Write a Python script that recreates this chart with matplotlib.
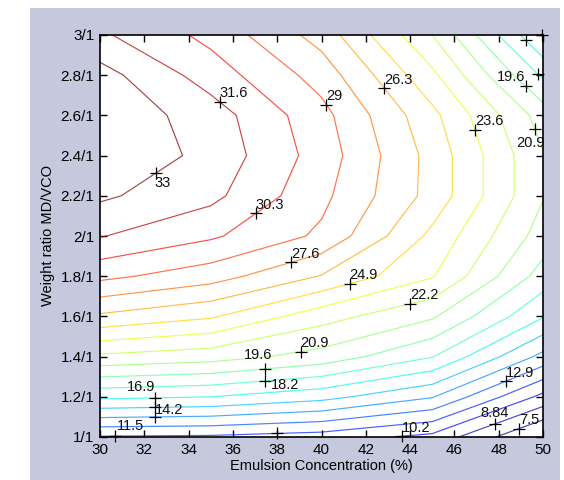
import matplotlib
matplotlib.use("Agg")
import matplotlib.pyplot as plt
import numpy as np

# grid (emulsion %, weight ratio MD/VCO)
emulsion = [30, 35, 40, 45, 50]
ratio = [1.0, 1.2, 1.4, 1.6, 1.8, 2.0, 2.2, 2.4, 2.6, 2.8, 3.0]
# response at each (ratio row, emulsion column)
response = [
    [11.4, 11.3, 10.9, 9.8, 5.8],
    [17.2, 16.9, 16.0, 14.3, 9.8],
    [22.0, 21.5, 20.4, 18.3, 13.8],
    [26.05, 25.1, 22.8, 21.1, 17.0],
    [29.3, 28.2, 26.2, 23.7, 19.0],
    [31.7, 30.5, 28.7, 24.6, 20.3],
    [33.2, 32.0, 29.3, 25.8, 21.0],
    [34.2, 32.55, 29.7, 25.8, 21.0],
    [34.0, 32.3, 29.4, 25.3, 20.3],
    [33.5, 31.0, 28.4, 23.9, 18.0],
    [31.85, 29.9, 27.07, 22.26, 15.5],
]
levels = [7.5, 8.84, 10.18, 11.52, 12.86, 14.2, 15.54, 16.89, 18.23, 19.57,
          20.91, 22.25, 23.59, 24.93, 26.27, 27.61, 28.95, 30.29, 31.63, 32.97]

# contour labels: text, approximate spot on the line
label_text = ["33", "31.6", "30.3", "29", "27.6", "26.3", "24.9", "23.6", "22.2",
              "20.9", "20.9", "19.6", "19.6", "18.2", "16.9", "14.2", "12.9",
              "11.5", "10.2", "8.84", "7.5"]
label_x = [32.6, 35.4, 37.07, 40.05, 38.65, 42.5, 41.3, 46.7, 44.0,
           39.06, 49.3, 37.45, 49.1, 37.45, 32.5, 32.5, 48.3,
           30.7, 43.6, 47.8, 48.9]
label_y = [2.30, 2.668, 2.108, 2.64, 1.864, 2.706, 1.751, 2.52, 1.663,
           1.42, 2.52, 1.337, 2.73, 1.279, 1.19, 1.10, 1.28,
           1.0, 1.026, 1.075, 1.05]
# label pluses whose text is hidden
extra_level = [15.54, 11.52, 16.89, 18.23, 15.54]
extra_x = [32.5, 38.0, 49.1, 49.7, 49.8]
extra_y = [1.142, 1.02, 2.96, 2.80, 2.99]

# text placement per label: (ha, va, dx pt, dy pt)
label_place = [
    ("left", "top", -1, -2), ("left", "bottom", 0, 1), ("left", "bottom", 0, 1),
    ("left", "bottom", 0, 1), ("left", "bottom", 0, 1), ("left", "bottom", 0, 1),
    ("left", "bottom", 0, 1), ("left", "bottom", 0, 1), ("left", "bottom", 0, 1),
    ("left", "bottom", 0, 1), ("right", "top", 7, -5), ("right", "bottom", 5, 5),
    ("right", "bottom", 0, 2), ("left", "center", 4, -3), ("right", "bottom", 0, 3),
    ("left", "bottom", 0, 0), ("left", "bottom", 0, 1), ("left", "bottom", 1, 2),
    ("left", "bottom", 0, 1), ("center", "bottom", 0, 3), ("left", "bottom", 0, 1),
]

SX, SY = 22.15, 201.0  # px per data unit, used only to snap labels onto lines


def snap(segs, x0, y0):
    best, bd = (x0, y0), np.inf
    for seg in segs:
        for p, q in zip(seg[:-1], seg[1:]):
            d = np.array([(q[0] - p[0]) * SX, (q[1] - p[1]) * SY])
            r = np.array([(x0 - p[0]) * SX, (y0 - p[1]) * SY])
            L = d @ d
            t = 0.0 if L == 0 else np.clip((r @ d) / L, 0, 1)
            c = np.array([p[0] + t * (q[0] - p[0]), p[1] + t * (q[1] - p[1])])
            dist = ((c[0] - x0) * SX) ** 2 + ((c[1] - y0) * SY) ** 2
            if dist < bd:
                bd, best = dist, (c[0], c[1])
    return best


plt.rcParams["font.family"] = ["Liberation Sans Narrow", "Liberation Sans", "DejaVu Sans"]

fig = plt.figure(figsize=(5.64, 4.8), dpi=100)
fig.patch.set_facecolor("white")
# grey MATLAB figure panel behind the axes
bg = fig.add_axes([30 / 564, 0, 530 / 564, 472 / 480], zorder=-10)
bg.set_facecolor("#c6c8dd")
bg.set_xticks([])
bg.set_yticks([])
for s in bg.spines.values():
    s.set_visible(False)

ax = fig.add_axes([100 / 564, 43 / 480, 443 / 564, 402 / 480])
ax.set_facecolor("white")

X, Y = np.meshgrid(emulsion, ratio)
Z = np.array(response)
cs = ax.contour(X, Y, Z, levels=levels, cmap="jet", linewidths=0.85, alpha=0.72)

lv = np.array(levels)
for txt, x0, y0, (ha, va, dx, dy) in zip(label_text, label_x, label_y, label_place):
    k = int(np.argmin(np.abs(lv - float(txt))))
    px, py = snap(cs.allsegs[k], x0, y0)
    ax.plot(px, py, "+", color="black", ms=8, mew=0.9, clip_on=False, zorder=5)
    ax.annotate(txt, (px, py), xytext=(dx, dy), textcoords="offset points",
                ha=ha, va=va, fontsize=10.5, color="#111111", zorder=6,
                annotation_clip=False)
for lvl, x0, y0 in zip(extra_level, extra_x, extra_y):
    k = int(np.argmin(np.abs(lv - lvl)))
    px, py = snap(cs.allsegs[k], x0, y0)
    ax.plot(px, py, "+", color="black", ms=8, mew=0.9, clip_on=False, zorder=5)

ax.set_xlim(30, 50)
ax.set_ylim(1, 3)
xt = list(range(30, 51, 2))
ax.set_xticks(xt)
ax.set_xticklabels([str(v) for v in xt])
yt = [1.0, 1.2, 1.4, 1.6, 1.8, 2.0, 2.2, 2.4, 2.6, 2.8, 3.0]
ax.set_yticks(yt)
ax.set_yticklabels([f"{v:g}/1" for v in yt])
ax.tick_params(direction="in", top=True, right=True, length=5, width=1,
               labelsize=11, pad=4)
for s in ax.spines.values():
    s.set_linewidth(1.2)
ax.set_xlabel("Emulsion Concentration (%)", fontsize=10.5, labelpad=2)
ax.set_ylabel("Weight ratio MD/VCO", fontsize=10.5, labelpad=4)

fig.savefig("out.png", dpi=100)
